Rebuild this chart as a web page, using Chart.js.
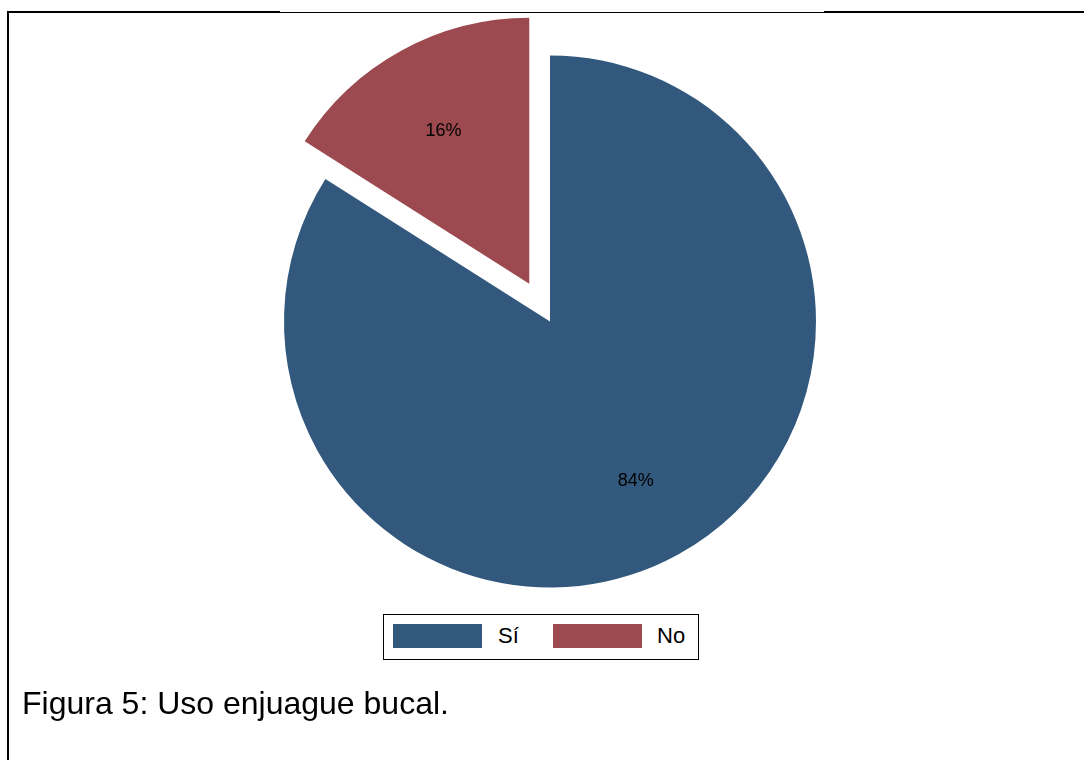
<!DOCTYPE html>
<html lang="es">
<head>
<meta charset="utf-8">
<title>Uso enjuague bucal</title>
<script src="https://cdn.jsdelivr.net/npm/chart.js@4.4.1/dist/chart.umd.min.js"></script>
<style>
    html, body {
        margin: 0;
        padding: 0;
        background: #fff;
        font-family: Arial, "Liberation Sans", sans-serif;
    }
    .page {
        position: relative;
        width: 1084px;
        height: 760px;
        overflow: hidden;
    }
    .rule { position: absolute; background: #000; }
    #pieChart { position: absolute; left: 0; top: 0; }
    .legend-box {
        position: absolute;
        left: 383px;
        top: 614px;
        width: 314px;
        height: 44px;
        border: 1px solid #000;
        background: #fff;
    }
    .legend-swatch { position: absolute; top: 9px; width: 89px; height: 24px; }
    .legend-label { position: absolute; top: 8px; font-size: 22px; line-height: 26px; color: #000; }
    .caption {
        position: absolute;
        left: 22px;
        top: 684px;
        font-size: 32px;
        line-height: 38px;
        color: #000;
    }
</style>
</head>
<body>
<div class="page">
    <div class="rule" style="left:7px; top:11px; width:273px; height:2px;"></div>
    <div class="rule" style="left:280px; top:12px; width:544px; height:1px;"></div>
    <div class="rule" style="left:824px; top:11px; width:260px; height:2px;"></div>
    <div class="rule" style="left:7px; top:11px; width:2px; height:749px;"></div>

    <canvas id="pieChart" width="1084" height="760"></canvas>

    <div class="legend-box" id="pieLegend"></div>
    <div class="caption">Figura 5: Uso enjuague bucal.</div>
</div>

<script>
// Data
const labels = ['Sí', 'No'];
const values = [84, 16];
const colors = ['#32597D', '#9C4A50'];
const explode = [0, 43];   // px each slice is pulled out along its bisector

// Pulls slices out and writes the percentage on each one
const slicePlugin = {
    id: 'slicePlugin',
    beforeDatasetDraw(chart, args) {
        const ctx = chart.ctx;
        const meta = args.meta;
        meta.data.forEach((arc, i) => {
            const mid = (arc.startAngle + arc.endAngle) / 2;
            ctx.save();
            ctx.translate(Math.cos(mid) * explode[i], Math.sin(mid) * explode[i]);
            arc.draw(ctx);
            ctx.restore();
        });
        return false;
    },
    afterDatasetsDraw(chart) {
        const ctx = chart.ctx;
        const meta = chart.getDatasetMeta(0);
        const total = values.reduce((a, b) => a + b, 0);
        ctx.save();
        ctx.font = "18px Arial, 'Liberation Sans', sans-serif";
        ctx.fillStyle = '#000';
        ctx.textAlign = 'center';
        ctx.textBaseline = 'middle';
        meta.data.forEach((arc, i) => {
            const mid = (arc.startAngle + arc.endAngle) / 2;
            const r = arc.outerRadius * 0.67 + explode[i];
            const x = arc.x + Math.cos(mid) * r;
            const y = arc.y + Math.sin(mid) * r + 3;
            ctx.fillText(Math.round(values[i] / total * 100) + '%', x, y);
        });
        ctx.restore();
    }
};

function initPieChart() {
    const ctx = document.getElementById('pieChart').getContext('2d');

    new Chart(ctx, {
        type: 'pie',
        data: {
            labels: labels,
            datasets: [{
                data: values,
                backgroundColor: colors,
                borderWidth: 0
            }]
        },
        options: {
            responsive: false,
            animation: false,
            radius: 266,
            layout: {
                padding: { left: 16, right: 0, top: 0, bottom: 117 }
            },
            plugins: {
                legend: { display: false },
                tooltip: { enabled: false }
            }
        },
        plugins: [slicePlugin]
    });

    // Legend row: swatch + label per category
    const legend = document.getElementById('pieLegend');
    const swatchLeft = [9, 169];
    const labelLeft = [114, 273];
    let html = '';
    labels.forEach((label, i) => {
        html += `<div class="legend-swatch" style="left:${swatchLeft[i]}px; background:${colors[i]}"></div>`;
        html += `<div class="legend-label" style="left:${labelLeft[i]}px">${label}</div>`;
    });
    legend.innerHTML = html;
}

document.addEventListener('DOMContentLoaded', initPieChart);
</script>
</body>
</html>
